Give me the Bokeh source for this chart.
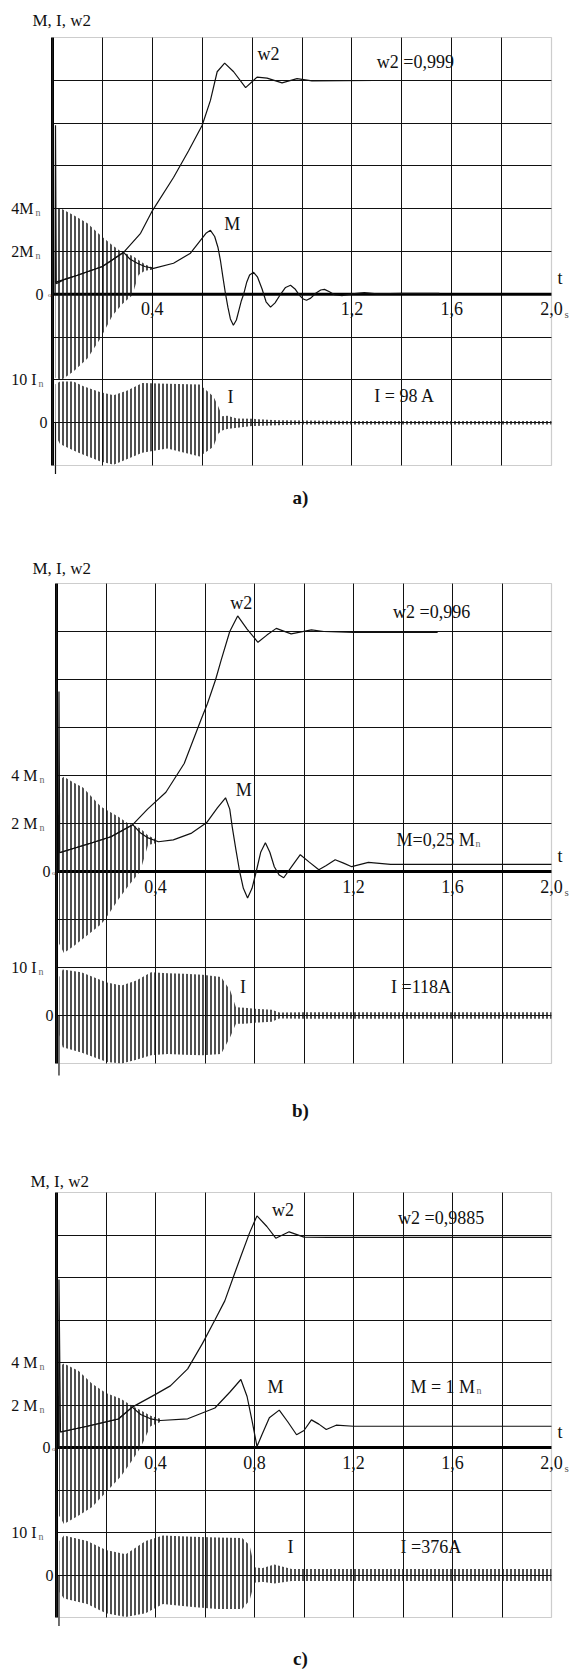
from bokeh.plotting import figure
from bokeh.models import Label, Grid, FixedTicker, Range1d, BoxAnnotation
from bokeh.layouts import column
from bokeh.embed import file_html
from bokeh.resources import INLINE

# ---------------- shared ----------------
GRID_T = [0.2, 0.4, 0.6, 0.8, 1.0, 1.2, 1.4, 1.6, 1.8]
GRID_M = [-6, -4, -2, 2, 4, 6, 8, 10]
TICK_T_AB = [0.4, 1.2, 1.6, 2.0]
TICK_L_AB = ["0,4", "1,2", "1,6", "2,0"]
TICK_T_C = [0.4, 0.8, 1.2, 1.6, 2.0]
TICK_L_C = ["0,4", "0,8", "1,2", "1,6", "2,0"]

# ---------------- panel a ----------------
A_T_W2 = [0.01, 0.1, 0.2, 0.285, 0.353, 0.40, 0.485, 0.545, 0.60, 0.633, 0.66, 0.69, 0.726, 0.774, 0.82, 0.86, 0.92, 0.98, 1.04, 1.29]
A_W2 = [0.056, 0.089, 0.13, 0.196, 0.285, 0.39, 0.546, 0.67, 0.79, 0.906, 1.04, 1.08, 1.04, 0.966, 1.015, 1.01, 0.988, 1.008, 0.997, 0.999]

A_T_M = [0.010, 0.012, 0.015, 0.05, 0.1, 0.2, 0.285, 0.31, 0.34, 0.37, 0.405, 0.485, 0.553, 0.593, 0.615, 0.633, 0.65, 0.663, 0.673, 0.683,
         0.693, 0.703, 0.713, 0.725, 0.737, 0.748, 0.757, 0.766, 0.778, 0.79, 0.806, 0.822, 0.84, 0.856, 0.874, 0.892, 0.914, 0.934,
         0.954, 0.972, 0.99, 1.005, 1.018, 1.035, 1.055, 1.075, 1.09, 1.11, 1.13, 1.16, 1.2, 1.25, 1.3, 1.4, 1.55]
A_M = [0.0, 7.9, 0.5, 0.7, 0.89, 1.3, 1.96, 1.65, 1.45, 1.3, 1.21, 1.45, 1.92, 2.52, 2.85, 2.99, 2.7, 2.2, 1.59, 0.8,
       0.05, -0.6, -1.15, -1.45, -1.2, -0.7, -0.3, 0.0, 0.55, 0.9, 1.03, 0.8, 0.25, -0.35, -0.6, -0.4, 0.0, 0.32,
       0.42, 0.25, -0.05, -0.22, -0.28, -0.18, 0.05, 0.2, 0.23, 0.12, -0.02, -0.06, 0.02, 0.08, 0.02, 0.05, 0.04]

A_T_MB = [0.012, 0.036, 0.085, 0.14, 0.192, 0.24, 0.28, 0.32, 0.345, 0.37, 0.40]
A_MB_HI = [4.0, 4.0, 3.69, 3.32, 2.76, 2.29, 1.95, 1.8, 1.6, 1.4, 1.25]
A_MB_LO = [-3.9, -4.0, -3.6, -3.0, -2.06, -1.0, -0.45, -0.05, 0.9, 1.1, 1.15]

A_T_IB = [0.012, 0.03, 0.084, 0.124, 0.19, 0.245, 0.30, 0.36, 0.46, 0.59, 0.645, 0.665, 0.68, 0.70, 0.74, 0.80, 0.90, 1.00, 1.20, 2.00]
A_IB_HI = [9.0, 9.6, 9.6, 8.5, 7.2, 6.4, 7.5, 9.3, 9.1, 8.9, 6.1, 3.7, 1.5, 1.6, 1.0, 0.9, 0.6, 0.5, 0.4, 0.4]
A_IB_LO = [-3.0, -5.0, -6.5, -7.5, -9.0, -9.8, -8.5, -7.0, -6.0, -7.9, -5.6, -2.5, -1.8, -1.5, -1.2, -0.8, -0.6, -0.4, -0.4, -0.4]
A_T_ISP = [0.012, 0.012]
A_ISP = [0.0, -12.0]

# ---------------- panel b ----------------
B_T_W2 = [0.01, 0.144, 0.22, 0.308, 0.368, 0.442, 0.516, 0.583, 0.61, 0.643, 0.665, 0.70, 0.732, 0.77, 0.814, 0.85, 0.888, 0.948, 1.03, 1.08, 1.2, 1.54]
B_W2 = [0.078, 0.12, 0.145, 0.195, 0.26, 0.33, 0.45, 0.63, 0.70, 0.8, 0.88, 1.0, 1.065, 1.01, 0.955, 0.985, 1.013, 0.99, 1.007, 1.0, 0.996, 0.996]

B_T_M = [0.008, 0.010, 0.013, 0.144, 0.22, 0.308, 0.34, 0.37, 0.412, 0.472, 0.546, 0.606, 0.65, 0.683, 0.70, 0.71, 0.725, 0.74, 0.755,
         0.772, 0.79, 0.807, 0.825, 0.844, 0.862, 0.88, 0.9, 0.918, 0.95, 0.985, 1.02, 1.06, 1.09, 1.126, 1.16, 1.193, 1.26, 1.35, 1.5, 2.0]
B_M = [0.0, 7.5, 0.78, 1.2, 1.45, 1.95, 1.6, 1.4, 1.24, 1.32, 1.6, 2.03, 2.65, 3.07, 2.6, 1.86, 0.9, 0.0, -0.7,
       -1.1, -0.7, 0.0, 0.8, 1.2, 0.8, 0.2, -0.15, -0.26, 0.2, 0.7, 0.4, 0.07, 0.25, 0.49, 0.35, 0.2, 0.38, 0.3, 0.3, 0.3]

B_T_MB = [0.010, 0.03, 0.07, 0.107, 0.18, 0.196, 0.25, 0.29, 0.338, 0.37, 0.41]
B_MB_HI = [3.8, 3.95, 3.7, 3.5, 2.7, 2.6, 2.28, 2.0, 1.8, 1.5, 1.3]
B_MB_LO = [-3.0, -3.4, -3.1, -2.8, -2.2, -2.0, -1.17, -0.6, 0.0, 1.1, 1.2]

B_T_IB = [0.012, 0.025, 0.1, 0.204, 0.263, 0.323, 0.382, 0.45, 0.516, 0.59, 0.665, 0.702, 0.725, 0.76, 0.80, 0.87, 0.90, 1.0, 1.5, 2.0]
B_IB_HI = [8.0, 9.6, 9.0, 6.9, 6.25, 7.3, 9.0, 8.8, 8.7, 8.5, 8.0, 5.2, 1.7, 1.6, 1.4, 1.2, 0.6, 0.7, 0.7, 0.7]
B_IB_LO = [-4.0, -6.6, -7.7, -9.7, -10.0, -9.2, -8.3, -8.0, -8.2, -8.3, -8.0, -4.5, -1.7, -1.7, -1.5, -1.3, -0.6, -0.7, -0.7, -0.7]
B_T_ISP = [0.010, 0.010]
B_ISP = [0.0, -12.5]

# ---------------- panel c ----------------
C_T_W2 = [0.016, 0.124, 0.25, 0.306, 0.40, 0.46, 0.53, 0.59, 0.64, 0.68, 0.72, 0.745, 0.78, 0.81, 0.85, 0.886, 0.94, 1.0, 1.1, 2.0]
C_W2 = [0.073, 0.1, 0.134, 0.19, 0.25, 0.29, 0.37, 0.49, 0.6, 0.69, 0.82, 0.9, 1.01, 1.09, 1.04, 0.985, 1.015, 0.99, 0.9885, 0.9885]

C_T_M = [0.008, 0.010, 0.016, 0.124, 0.25, 0.306, 0.34, 0.38, 0.42, 0.53, 0.64, 0.70, 0.745, 0.77, 0.79, 0.81, 0.83, 0.86, 0.9,
         0.935, 0.97, 1.0, 1.03, 1.06, 1.09, 1.13, 1.2, 2.0]
C_M = [0.0, 7.9, 0.73, 1.0, 1.34, 1.9, 1.55, 1.35, 1.27, 1.35, 1.86, 2.6, 3.2, 2.4, 1.27, 0.05, 0.6, 1.4, 1.76,
       1.2, 0.6, 0.8, 1.3, 1.1, 0.85, 1.05, 1.0, 1.0]

C_T_MB = [0.010, 0.03, 0.09, 0.144, 0.2, 0.26, 0.306, 0.34, 0.38, 0.42]
C_MB_HI = [3.8, 3.95, 3.6, 3.0, 2.56, 2.3, 1.95, 1.75, 1.5, 1.35]
C_MB_LO = [-3.2, -3.6, -3.2, -2.8, -2.1, -1.37, -0.6, 0.0, 1.0, 1.2]

C_T_IB = [0.012, 0.03, 0.124, 0.2, 0.28, 0.36, 0.43, 0.55, 0.65, 0.75, 0.78, 0.80, 0.83, 0.88, 0.95, 1.2, 2.0]
C_IB_HI = [8.0, 9.3, 8.0, 5.9, 4.9, 8.0, 9.3, 9.0, 8.8, 8.7, 7.0, 1.8, 1.6, 2.5, 1.4, 1.4, 1.4]
C_IB_LO = [-4.0, -5.5, -6.8, -9.0, -9.9, -9.0, -6.8, -7.5, -8.0, -8.0, -6.0, -1.8, -1.6, -2.0, -1.4, -1.4, -1.4]
C_T_ISP = [0.010, 0.010]
C_ISP = [0.0, -12.0]

SERIF = "Liberation Serif"
W = 574


def lab(p, x, y, text, size=18, align="left", base="middle", xo=0, yo=0, color="#111", bold=False):
    p.add_layout(Label(x=x, y=y, text=text, text_font=SERIF, text_font_size=f"{size}px",
                       text_align=align, text_baseline=base, x_offset=xo, y_offset=yo,
                       text_color=color, text_font_style="bold" if bold else "normal"))


def make_grid(dim, ticks, cross):
    try:
        return Grid(dimension=dim, ticker=FixedTicker(ticks=ticks), cross_bounds=cross,
                    grid_line_color="#111111", grid_line_width=1)
    except AttributeError:
        return None


def panel(H, L, R, T, B, d, caption, ticks_t, ticks_l, ys, title_xy):
    sx = (R - L) / 2.0
    sy = (B - T) / 20.0
    x0, x1 = -L / sx, 2.0 + (W - R) / sx
    y0, y1 = -8 - (H - B) / sy, 12 + T / sy
    p = figure(frame_width=W, frame_height=H, min_border=0, x_range=Range1d(x0, x1), y_range=Range1d(y0, y1),
               x_axis_type=None, y_axis_type=None, toolbar_location=None, output_backend="svg")
    p.extra_y_ranges = {"w2": Range1d(y0 / 10.0, y1 / 10.0), "I": Range1d((y0 + 6) * 5, (y1 + 6) * 5)}
    p.outline_line_color = None
    p.background_fill_color = "white"
    p.border_fill_color = "white"

    g1 = make_grid(0, GRID_T, (-8, 12))
    g2 = make_grid(1, GRID_M, (0, 2.0))
    if g1 is not None:
        p.add_layout(g1)
        p.add_layout(g2)
    else:
        for t in GRID_T:
            p.line([t, t], [-8, 12], line_color="#111", line_width=1)
        for m in GRID_M:
            p.line([0, 2.0], [m, m], line_color="#111", line_width=1)
    p.add_layout(BoxAnnotation(left=0, right=2.0, bottom=-8, top=12, fill_alpha=0, fill_color=None,
                               line_color="#5a5a5a", line_width=1.2))
    p.line([0, 2.0], [0, 0], line_color="black", line_width=3)
    p.line([0, 0], [-8, 12], line_color="black", line_width=3)

    # dense oscillation bands (envelopes)
    p.varea(x=d["t_mb"], y1=d["mb_lo"], y2=d["mb_hi"], fill_color=None, fill_alpha=0,
            hatch_pattern="vertical_line", hatch_scale=4, hatch_weight=1.5, hatch_color="#151515")
    p.varea(x=d["t_ib"], y1=d["ib_lo"], y2=d["ib_hi"], fill_color=None, fill_alpha=0,
            hatch_pattern="vertical_line", hatch_scale=4, hatch_weight=1.5, hatch_color="#151515",
            y_range_name="I")
    p.line(d["t_isp"], d["isp"], line_color="#111", line_width=1.2, y_range_name="I")
    p.line(d["t_m"], d["m"], line_color="#111", line_width=1.2)
    p.line(d["t_w2"], d["w2"], line_color="#111", line_width=1.2, y_range_name="w2")

    # title
    lab(p, 0, 12, "M, I, w2", size=17, xo=title_xy[0] - L, yo=T - title_xy[1])
    # y labels
    lab(p, 0, 4, ys["m4"], size=16, align="right", xo=ys["mx"])
    lab(p, 0, 4, "n", size=10, align="left", xo=ys["mx"] + 2, yo=-4, color="#666")
    lab(p, 0, 2, ys["m2"], size=16, align="right", xo=ys["mx"])
    lab(p, 0, 2, "n", size=10, align="left", xo=ys["mx"] + 2, yo=-4, color="#666")
    lab(p, 0, 0, "0", size=16, align="right", xo=ys["zx"])
    lab(p, 0, 0, "o", size=7, align="right", xo=-1, yo=-1, color="#555")
    lab(p, 0, -4, "10 I", size=16, align="right", xo=ys["ix"])
    lab(p, 0, -4, "n", size=10, align="left", xo=ys["ix"] + 2, yo=-4, color="#666")
    lab(p, 0, -6, "0", size=16, align="right", xo=ys["iz"])
    # time tick labels
    for tt, tl in zip(ticks_t, ticks_l):
        lab(p, tt, 0, tl, align="center", base="top", yo=-8)
    lab(p, 2.0, 0, "s", size=11, align="left", base="top", xo=13, yo=-14, color="#555")
    lab(p, 2.0, 0, "t", size=18, align="left", base="bottom", xo=6, yo=6)
    # in-plot annotations
    for (x, y, t, al) in d["notes"]:
        lab(p, x, y, t, align=al)
    for (x, y, xo) in d.get("subs", []):
        lab(p, x, y, "n", size=10, align="left", xo=xo, yo=-4, color="#666")
    lab(p, (300 - L) / sx, -8, caption[0], size=19, align="center", yo=-caption[1], bold=True)
    return p


DA = dict(t_w2=A_T_W2, w2=A_W2, t_m=A_T_M, m=A_M, t_mb=A_T_MB, mb_hi=A_MB_HI, mb_lo=A_MB_LO,
          t_ib=A_T_IB, ib_hi=A_IB_HI, ib_lo=A_IB_LO, t_isp=A_T_ISP, isp=A_ISP,
          notes=[(0.866, 11.25, "w2", "center"), (1.30, 10.85, "w2 =0,999", "left"),
                 (0.72, 3.3, "M", "center"), (0.713, -4.8, "I", "center"), (1.29, -4.75, "I = 98 A", "left")])
DB = dict(t_w2=B_T_W2, w2=B_W2, t_m=B_T_M, m=B_M, t_mb=B_T_MB, mb_hi=B_MB_HI, mb_lo=B_MB_LO,
          t_ib=B_T_IB, ib_hi=B_IB_HI, ib_lo=B_IB_LO, t_isp=B_T_ISP, isp=B_ISP,
          notes=[(0.746, 11.2, "w2", "center"), (1.36, 10.8, "w2 =0,996", "left"),
                 (0.757, 3.4, "M", "center"), (1.374, 1.33, "M=0,25 M", "left"),
                 (0.754, -4.8, "I", "center"), (1.352, -4.8, "I =118A", "left")],
          subs=[(1.374, 1.33, 79)])
DC = dict(t_w2=C_T_W2, w2=C_W2, t_m=C_T_M, m=C_M, t_mb=C_T_MB, mb_hi=C_MB_HI, mb_lo=C_MB_LO,
          t_ib=C_T_IB, ib_hi=C_IB_HI, ib_lo=C_IB_LO, t_isp=C_T_ISP, isp=C_ISP,
          notes=[(0.915, 11.2, "w2", "center"), (1.38, 10.8, "w2 =0,9885", "left"),
                 (0.885, 2.87, "M", "center"), (1.43, 2.87, "M = 1 M", "left"),
                 (0.945, -4.7, "I", "center"), (1.39, -4.7, "I =376A", "left")],
          subs=[(1.43, 2.87, 66)])

YA = dict(m4="4M", m2="2M", mx=-19, zx=-9, ix=-16, iz=-5)
YB = dict(m4="4 M", m2="2 M", mx=-19, zx=-6, ix=-20, iz=-3)

pa = panel(540, 52, 551, 37, 465, DA, ("a)", 32), TICK_T_AB, TICK_L_AB, YA, (32, 20))
pb = panel(590, 56, 551, 43, 523, DB, ("b)", 47), TICK_T_AB, TICK_L_AB, YB, (32, 28))
pc = panel(542, 56, 551, 62, 487, DC, ("c)", 41), TICK_T_C, TICK_L_C, YB, (30, 51))

layout = column(pa, pb, pc, spacing=0)
open("out.html", "w").write(file_html(layout, INLINE))
